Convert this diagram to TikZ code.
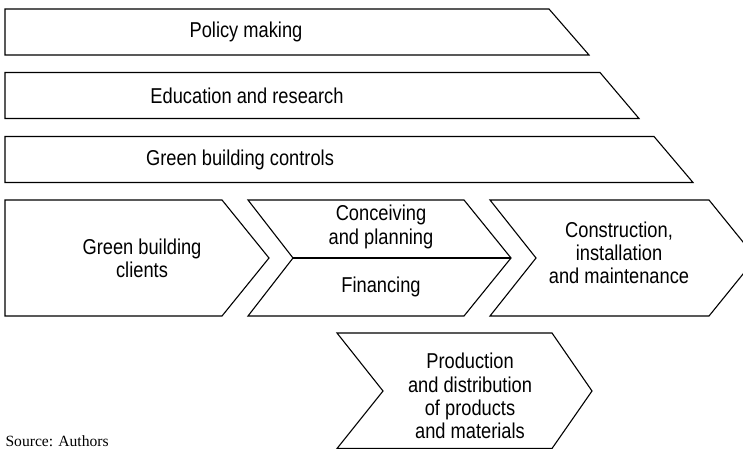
\documentclass[tikz,border=0pt]{standalone}
\usepackage{fontspec}
\setmainfont{Liberation Sans}[FakeStretch=0.85]
\newfontfamily\sourcefont{Liberation Serif}
\usetikzlibrary{positioning}

\begin{document}
\begin{tikzpicture}[x=1pt,y=-1pt,line width=1.1pt,line join=miter,
    boxtext/.style={align=center,inner sep=0pt,font=\fontsize{21.5}{23.3}\selectfont}]
    \useasboundingbox (0,0) rectangle (743,449);
    \clip (0,0) rectangle (743,449);
    % framing bands
    \foreach \t/\tr/\br/\tx/\name/\txt in {9/549/589/246/policy/Policy making,
        72.5/600/639/247/edu/Education and research,
        136.5/654/693/240/controls/Green building controls} {
      \draw (5,\t) -- (\tr,\t) -- (\br,\t+46) -- (5,\t+46) -- cycle;
      \node[boxtext] (\name) at (\tx,\t+23) {\txt};
    }
    % value chain
    \draw (5,200) -- (222,200) -- (269,258) -- (222,316) -- (5,316) -- cycle;
    \draw (248,200) -- (464,200) -- (511,258) -- (464,316) -- (248,316) -- (293,258) -- cycle;
    \draw (293,258) -- (511,258);
    \draw (490,200) -- (709,200) -- (756,258) -- (709,316) -- (490,316) -- (536,258) -- cycle;
    \draw (337,333) -- (552,333) -- (592,391) -- (552,448.5) -- (337,448.5) -- (383,391) -- cycle;
    \node[boxtext] (clients) at (142,258) {Green building\\clients};
    \node[boxtext] (conceiving) at (381,227) {Conceiving\\and planning};
    \node[boxtext] (financing) at (381,287) {Financing};
    \node[boxtext] (construction) at (619,253) {Construction,\\installation\\and maintenance};
    \node[boxtext] (production) at (470,396) {Production\\and distribution\\of products\\and materials};
    \node[anchor=base west,inner sep=0pt,font=\sourcefont\fontsize{15.6}{17}\selectfont] (source) at (5,446.5) {Source: Authors};
  \end{tikzpicture}
\end{document}
